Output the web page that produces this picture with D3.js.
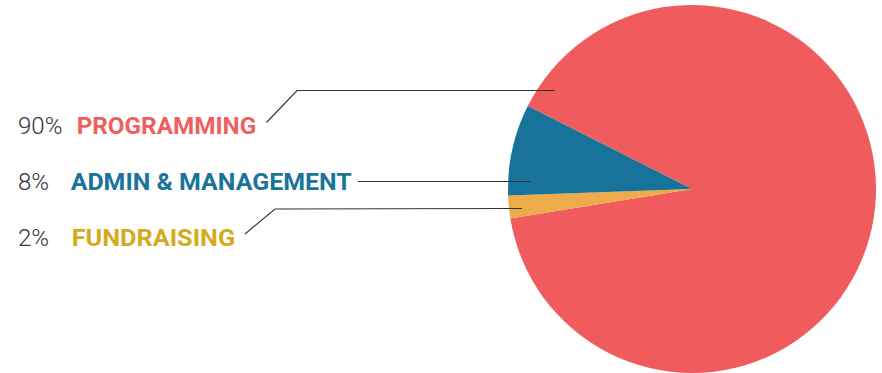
<!DOCTYPE html>
<html><head><meta charset="utf-8">
<script src="https://cdn.jsdelivr.net/npm/d3@7"></script>
<style>html,body{margin:0;padding:0;background:#fff;}svg{display:block;}</style>
</head><body>
<svg id="chart" width="882" height="373"></svg>
<script>
const categories = ["PROGRAMMING", "FUNDRAISING", "ADMIN & MANAGEMENT"];
const values = [90, 2, 8];
const sliceColors = ["#f05c5e", "#edab49", "#177399"];
const labelColors = ["#ef5f62", "#d4ab1c", "#1a7399"];
const labelOrder = ["PROGRAMMING", "ADMIN & MANAGEMENT", "FUNDRAISING"];

const svg = d3.select("#chart");
const cx = 692, cy = 189, r = 184;
const startDeg = -63.2;

const pie = d3.pie().sort(null).value(d => d)
  .startAngle(startDeg * Math.PI / 180)
  .endAngle((startDeg + 360) * Math.PI / 180);
const arcs = pie(values);
const arc = d3.arc().innerRadius(0).outerRadius(r);

const g = svg.append("g").attr("transform", `translate(${cx},${cy})`);
g.selectAll("path").data(arcs).enter().append("path")
  .attr("d", arc)
  .attr("fill", (d, i) => sliceColors[i]);

// label layout
const rows = {
  "PROGRAMMING": {y: 134, x: 76.7, w: 179.5, line: [[266.5,122.5],[297,90.5],[555,90.5]]},
  "ADMIN & MANAGEMENT": {y: 190, x: 70.7, w: 281, line: [[358,181.5],[531,181.5]]},
  "FUNDRAISING": {y: 245.5, x: 71.7, w: 163.5, line: [[245,234],[275,209],[522,208.5]]}
};

const line = d3.line();
labelOrder.forEach(name => {
  const i = categories.indexOf(name);
  const row = rows[name];
  svg.append("path").attr("d", line(row.line))
    .attr("fill", "none").attr("stroke", "#333").attr("stroke-width", 1.1);
  svg.append("text").attr("x", 18).attr("y", row.y)
    .attr("font-family", "Roboto, sans-serif")
    .attr("font-weight", 300).attr("font-size", 24).attr("fill", "#333")
    .text(values[i] + "%");
  svg.append("text").attr("x", row.x).attr("y", row.y)
    .attr("font-family", "Roboto, sans-serif")
    .attr("font-weight", 700).attr("font-size", 24.8).attr("fill", labelColors[i])
    .attr("textLength", row.w).attr("lengthAdjust", "spacingAndGlyphs")
    .text(name);
});
</script>
</body></html>
